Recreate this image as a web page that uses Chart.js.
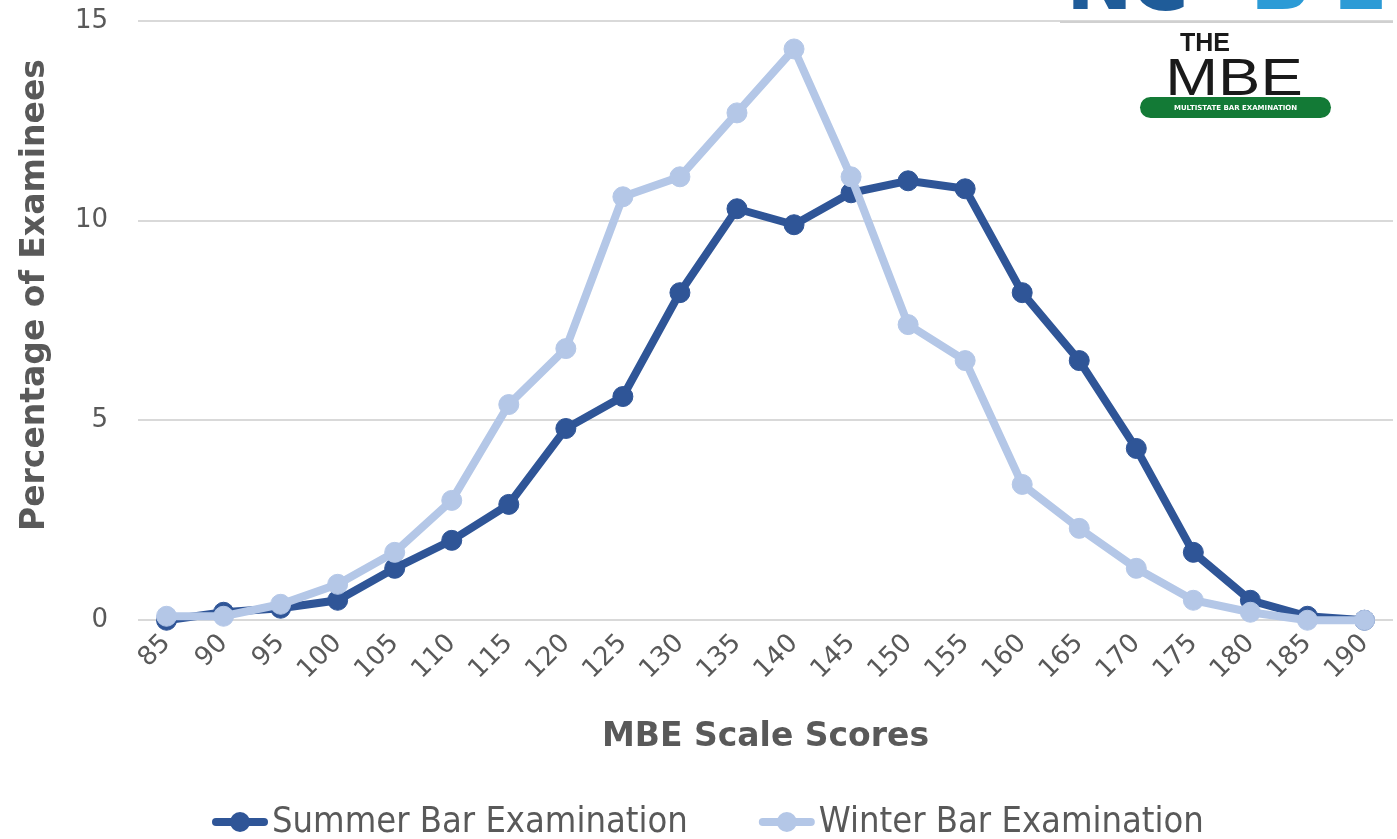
<!DOCTYPE html>
<html>
<head>
<meta charset="utf-8">
<script src="https://cdn.jsdelivr.net/npm/chart.js@4.4.1/dist/chart.umd.min.js"></script>
<style>
  html, body { margin: 0; padding: 0; background: #fff; }
  #wrap { width: 1397px; height: 839px; position: relative; }
</style>
</head>
<body>
<div id="wrap"><canvas id="mbeChart" width="1397" height="839"></canvas></div>
<script>
// MBE scale score distribution
const scores = ['85', '90', '95', '100', '105', '110', '115', '120', '125', '130', '135',
  '140', '145', '150', '155', '160', '165', '170', '175', '180', '185', '190'];
const summer = [0, 0.2, 0.3, 0.5, 1.3, 2.0, 2.9, 4.8, 5.6, 8.2, 10.3,
  9.9, 10.7, 11.0, 10.8, 8.2, 6.5, 4.3, 1.7, 0.5, 0.1, 0];
const winter = [0.1, 0.1, 0.4, 0.9, 1.7, 3.0, 5.4, 6.8, 10.6, 11.1, 12.7,
  14.3, 11.1, 7.4, 6.5, 3.4, 2.3, 1.3, 0.5, 0.2, 0, 0];
const yTicks = [0, 5, 10, 15];
const yTitle = 'Percentage of Examinees';

const SUMMER_COLOR = '#2F5597';
const WINTER_COLOR = '#B4C7E7';
const TEXT = '#595959';

// legend drawn by hand so the line+marker symbol looks like the original
const legendPlugin = {
  id: 'lineLegend',
  afterDraw(chart) {
    const ctx = chart.ctx;
    const y = 822;
    let x = 212;
    ctx.save();
    ctx.font = '36px "DejaVu Sans Condensed", "DejaVu Sans"';
    ctx.textBaseline = 'middle';
    chart.data.datasets.forEach(ds => {
      ctx.strokeStyle = ds.borderColor;
      ctx.lineWidth = 8;
      ctx.lineCap = 'round';
      ctx.beginPath();
      ctx.moveTo(x + 4, y);
      ctx.lineTo(x + 52, y);
      ctx.stroke();
      ctx.fillStyle = ds.borderColor;
      ctx.beginPath();
      ctx.arc(x + 28, y, 10, 0, Math.PI * 2);
      ctx.fill();
      ctx.fillStyle = TEXT;
      ctx.textAlign = 'left';
      ctx.fillText(ds.label, x + 60, y + 1);
      x += 60 + ctx.measureText(ds.label).width + 71;
    });
    ctx.restore();
  }
};

// y title sits a little above the centre of the axis in the original
const yTitlePlugin = {
  id: 'yTitle',
  afterDraw(chart) {
    const ctx = chart.ctx;
    ctx.save();
    ctx.translate(35, 295);
    ctx.rotate(-Math.PI / 2);
    ctx.font = 'bold 33px "DejaVu Sans"';
    ctx.fillStyle = TEXT;
    ctx.textAlign = 'center';
    ctx.textBaseline = 'middle';
    ctx.fillText(yTitle, 0, 0);
    ctx.restore();
  }
};

// NCBE / MBE logo in the top right corner
const logoPlugin = {
  id: 'logo',
  afterDraw(chart) {
    const ctx = chart.ctx;
    ctx.save();
    ctx.textBaseline = 'alphabetic';
    ctx.font = 'bold 80px "DejaVu Sans"';
    ctx.fillStyle = '#1F5C99';
    ctx.fillText('N', 1066, 9);
    ctx.fillText('C', 1130, 10);
    ctx.fillStyle = '#2C9BD6';
    ctx.fillText('B', 1250, 9);
    ctx.fillText('E', 1333, 9);
    ctx.strokeStyle = '#D0D0D0';
    ctx.lineWidth = 2;
    ctx.beginPath();
    ctx.moveTo(1060, 22);
    ctx.lineTo(1393, 22);
    ctx.stroke();

    ctx.fillStyle = '#1A1A1A';
    ctx.textAlign = 'center';
    ctx.font = 'bold 25px "Liberation Sans", Arial';
    ctx.fillText('THE', 1205, 51);
    ctx.save();
    ctx.translate(1234, 95);
    ctx.scale(1.22, 1);
    ctx.font = '52px "Liberation Sans", Arial';
    ctx.fillText('MBE', 0, 0);
    ctx.restore();

    ctx.fillStyle = '#137A36';
    const px = 1140, py = 97, pw = 191, ph = 21, r = 10.5;
    ctx.beginPath();
    ctx.moveTo(px + r, py);
    ctx.lineTo(px + pw - r, py);
    ctx.arc(px + pw - r, py + r, r, -Math.PI / 2, Math.PI / 2);
    ctx.lineTo(px + r, py + ph);
    ctx.arc(px + r, py + r, r, Math.PI / 2, Math.PI * 1.5);
    ctx.fill();
    ctx.fillStyle = '#fff';
    ctx.font = 'bold 7px "DejaVu Sans"';
    ctx.fillText('MULTISTATE BAR EXAMINATION', px + pw / 2, py + 13);
    ctx.restore();
  }
};

const ctx = document.getElementById('mbeChart').getContext('2d');
new Chart(ctx, {
  type: 'line',
  data: {
    labels: scores,
    datasets: [
      {
        label: 'Summer Bar Examination',
        data: summer,
        borderColor: SUMMER_COLOR,
        backgroundColor: SUMMER_COLOR,
        borderWidth: 8,
        pointRadius: 10,
        pointBorderWidth: 1,
        tension: 0,
        clip: false,
        order: 2
      },
      {
        label: 'Winter Bar Examination',
        data: winter,
        borderColor: WINTER_COLOR,
        backgroundColor: WINTER_COLOR,
        borderWidth: 8,
        pointRadius: 10,
        pointBorderWidth: 1,
        tension: 0,
        clip: false,
        order: 1
      }
    ]
  },
  options: {
    responsive: false,
    animation: false,
    layout: { autoPadding: false, padding: { top: 21, right: 4, left: 0, bottom: 82 } },
    plugins: {
      legend: { display: false },
      tooltip: { enabled: false }
    },
    scales: {
      x: {
        offset: true,
        afterFit: axis => { axis.paddingLeft = 0; axis.paddingRight = 0; },
        grid: { display: false },
        border: { display: false },
        ticks: {
          color: TEXT,
          font: { family: '"DejaVu Sans"', size: 26 },
          minRotation: 45,
          maxRotation: 45,
          padding: 0
        },
        title: {
          display: true,
          text: 'MBE Scale Scores',
          color: TEXT,
          font: { family: '"DejaVu Sans"', size: 33, weight: 'bold' },
          padding: { top: 32, bottom: 0 }
        }
      },
      y: {
        min: 0,
        max: 15,
        afterBuildTicks: axis => { axis.ticks = yTicks.map(v => ({ value: v })); },
        afterFit: axis => { axis.width = 138; axis.paddingTop = 0; axis.paddingBottom = 0; },
        grid: { color: '#D9D9D9', lineWidth: 2, drawTicks: false },
        border: { display: false },
        ticks: {
          color: TEXT,
          font: { family: '"DejaVu Sans"', size: 26 },
          padding: 30
        }
      }
    }
  },
  plugins: [legendPlugin, yTitlePlugin, logoPlugin]
});
</script>
</body>
</html>
